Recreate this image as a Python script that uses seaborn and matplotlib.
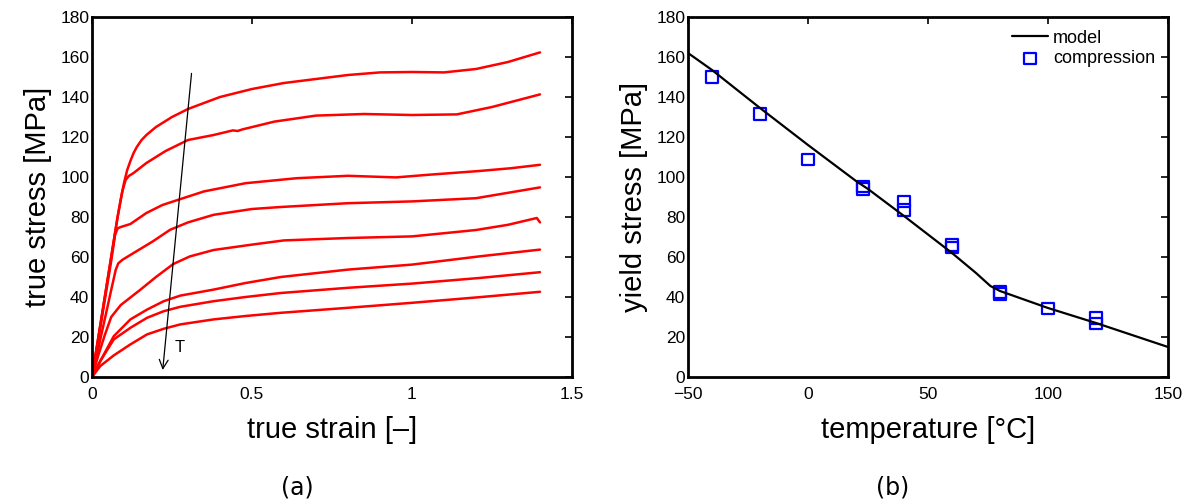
import numpy as np
import pandas as pd
import matplotlib
matplotlib.use("Agg")
import matplotlib.pyplot as plt
import seaborn as sns

# ---------------- data: panel (a) true stress-strain curves ----------------
strain_c1 = [0, 0.02, 0.04, 0.06, 0.08, 0.09, 0.10, 0.11, 0.12, 0.13, 0.14, 0.155, 0.17, 0.20,
             0.25, 0.30, 0.40, 0.50, 0.60, 0.70, 0.80, 0.90, 1.00, 1.10, 1.20, 1.30, 1.40]
stress_c1 = [0, 20, 40, 60, 80, 89, 97, 103.5, 108, 112, 115, 118.5, 121, 125,
             130, 134, 140, 144, 147, 149, 151, 152.3, 152.5, 152.3, 154, 157.5, 162.3]

strain_c2 = [0, 0.02, 0.04, 0.06, 0.08, 0.095, 0.105, 0.115, 0.13, 0.17, 0.23, 0.30, 0.38, 0.44,
             0.455, 0.47, 0.57, 0.70, 0.85, 1.00, 1.14, 1.25, 1.40]
stress_c2 = [0, 20, 40, 60, 80, 93, 98.5, 100.5, 102, 107, 113, 118.5, 121, 123.3,
             123.0, 123.8, 127.7, 130.7, 131.5, 131, 131.3, 135, 141.3]

strain_c3 = [0, 0.02, 0.04, 0.06, 0.072, 0.08, 0.09, 0.12, 0.17, 0.22, 0.275, 0.35, 0.48, 0.64,
             0.80, 0.95, 1.05, 1.21, 1.31, 1.40]
stress_c3 = [0, 19, 38.5, 58, 71, 74.3, 75, 76.5, 82, 86, 88.9, 92.8, 96.9, 99.4,
             100.6, 99.8, 101.1, 103, 104.4, 106.1]

strain_c4 = [0, 0.02, 0.04, 0.06, 0.074, 0.082, 0.095, 0.13, 0.19, 0.244, 0.30, 0.38, 0.50, 0.59,
             0.80, 1.00, 1.20, 1.40]
stress_c4 = [0, 14.5, 29, 43.5, 53.5, 56.8, 58.6, 62, 67.8, 73.6, 77.3, 81.1, 84, 85,
             86.9, 87.8, 89.4, 94.8]

strain_c5 = [0, 0.02, 0.04, 0.06, 0.09, 0.15, 0.20, 0.254, 0.306, 0.38, 0.50, 0.60, 0.80,
             1.00, 1.107, 1.20, 1.30, 1.39, 1.40]
stress_c5 = [0, 11, 21, 30, 36, 43.5, 50, 56.5, 60.3, 63.5, 66.2, 68.3, 69.5,
             70.3, 72, 73.5, 76.1, 79.5, 77.3]

strain_c6 = [0, 0.026, 0.068, 0.12, 0.172, 0.224, 0.276, 0.38, 0.48, 0.59, 0.80, 1.00, 1.21, 1.40]
stress_c6 = [0, 8, 20.4, 28.8, 33.7, 37.9, 40.7, 43.7, 47, 50, 53.7, 56.2, 60.3, 63.7]

strain_c7 = [0, 0.026, 0.068, 0.12, 0.172, 0.224, 0.276, 0.38, 0.48, 0.59, 0.80, 1.00, 1.21, 1.40]
stress_c7 = [0, 8, 18.8, 24.6, 29.6, 32.9, 35.1, 37.9, 40, 42, 44.6, 46.7, 49.5, 52.4]

strain_c8 = [0, 0.026, 0.068, 0.12, 0.172, 0.224, 0.276, 0.38, 0.48, 0.59, 0.80, 1.00, 1.21, 1.40]
stress_c8 = [0, 5.5, 10.8, 16.3, 21.3, 24.1, 26.3, 28.8, 30.5, 32.1, 34.6, 37.1, 39.9, 42.6]

# ---------------- data: panel (b) yield stress vs temperature ----------------
model_temp = [-50, -40, -20, 0, 20, 25, 40, 60, 70, 76, 80, 100, 120, 150]
model_yield = [162, 153.5, 134.5, 116, 98, 94, 80.5, 62, 52, 45.5, 43, 34.5, 27, 15]

comp_temp = [-40, -20, 0, 23, 23, 40, 40, 60, 60, 80, 80, 100, 120, 120]
comp_yield = [150, 131.4, 108.8, 95.2, 94, 87.8, 83.5, 65.9, 64.8, 42.6, 41.4, 34.2, 29.4, 26.7]

# ---------------- styling ----------------
sns.set_theme(style="white")
plt.rcParams['font.family'] = ['Liberation Sans', 'DejaVu Sans']
plt.rcParams.update({
    "xtick.direction": "in", "ytick.direction": "in",
    "xtick.top": True, "ytick.right": True,
    "xtick.major.size": 5, "ytick.major.size": 5,
    "xtick.major.width": 1.2, "ytick.major.width": 1.2,
    "axes.edgecolor": "black", "axes.linewidth": 2.0,
    "xtick.color": "black", "ytick.color": "black",
    "xtick.labelcolor": "black", "ytick.labelcolor": "black",
    "axes.labelcolor": "black", "text.color": "black",
    "xtick.labelsize": 12.5, "ytick.labelsize": 12.5,
    "xtick.major.pad": 7, "ytick.major.pad": 2,
})

fig = plt.figure(figsize=(11.91, 5.01), dpi=100)
ax1 = fig.add_axes([92 / 1191, 1 - 377 / 501, 480 / 1191, 360 / 501])
ax2 = fig.add_axes([688 / 1191, 1 - 377 / 501, 480 / 1191, 360 / 501])

# panel (a)
curves = [(strain_c1, stress_c1), (strain_c2, stress_c2), (strain_c3, stress_c3),
          (strain_c4, stress_c4), (strain_c5, stress_c5), (strain_c6, stress_c6),
          (strain_c7, stress_c7), (strain_c8, stress_c8)]
frames = []
for i, (s, t) in enumerate(curves):
    frames.append(pd.DataFrame({"strain": s, "stress": t, "curve": f"c{i+1}"}))
df_a = pd.concat(frames, ignore_index=True)
sns.lineplot(data=df_a, x="strain", y="stress", hue="curve", units="curve",
             estimator=None, sort=False, palette=["#ff0000"] * 8,
             linewidth=1.8, legend=False, ax=ax1)
ax1.set_xlim(0, 1.5)
ax1.set_ylim(0, 180)
ax1.set_xticks([0, 0.5, 1, 1.5])
ax1.set_xticklabels(["0", "0.5", "1", "1.5"])
ax1.set_yticks(range(0, 181, 20))
ax1.set_xlabel("true strain [–]", fontsize=21, labelpad=10)
ax1.set_ylabel("true stress [MPa]", fontsize=21, labelpad=6)
ax1.annotate("", xy=(0.221, 3.5), xytext=(0.311, 151.8),
             arrowprops=dict(arrowstyle="->", color="black", lw=0.9,
                             mutation_scale=16, shrinkA=0, shrinkB=0))
ax1.text(0.258, 15, "T", fontsize=12, ha="left", va="center")

# panel (b)
df_m = pd.DataFrame({"temp": model_temp, "yield": model_yield})
df_c = pd.DataFrame({"temp": comp_temp, "yield": comp_yield})
sns.lineplot(data=df_m, x="temp", y="yield", color="black", linewidth=1.6,
             label="model", ax=ax2)
sns.scatterplot(data=df_c, x="temp", y="yield", marker="s", s=70,
                facecolor="none", edgecolor="#0000ff", linewidth=1.6,
                label="compression", ax=ax2)
ax2.set_xlim(-50, 150)
ax2.set_ylim(0, 180)
ax2.set_xticks([-50, 0, 50, 100, 150])
ax2.set_xticklabels(["−50", "0", "50", "100", "150"])
ax2.set_yticks(range(0, 181, 20))
ax2.set_xlabel("temperature [°C]", fontsize=21, labelpad=10)
ax2.set_ylabel("yield stress [MPa]", fontsize=21, labelpad=6)
leg = ax2.legend(loc="upper right", frameon=False, fontsize=13,
                 handlelength=2.0, handletextpad=0.3, borderaxespad=0.3,
                 labelspacing=0.2, bbox_to_anchor=(1.0, 1.0))

fig.text(297 / 1191, 1 - 487 / 501, "(a)", fontsize=17, ha="center", va="center",
         family="DejaVu Sans")
fig.text(893 / 1191, 1 - 487 / 501, "(b)", fontsize=17, ha="center", va="center",
         family="DejaVu Sans")

fig.savefig("out.png", dpi=100)
